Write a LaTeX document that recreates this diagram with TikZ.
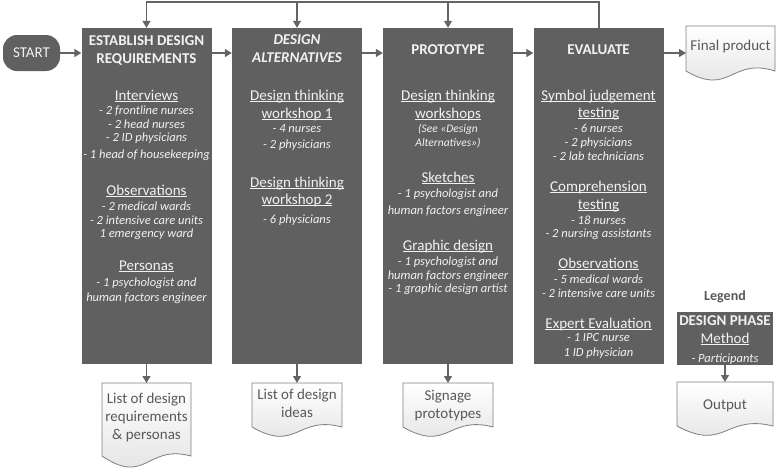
\documentclass[tikz,border=0pt]{standalone}
\usepackage{fontspec}
\setmainfont{Carlito}
\usetikzlibrary{arrows.meta}
\definecolor{boxfill}{HTML}{606060}
\definecolor{boxtext}{HTML}{F2F2F2}
\definecolor{linec}{HTML}{646464}
\definecolor{doctext}{HTML}{595959}
\definecolor{docline}{HTML}{7F7F7F}
\newcommand\myul[1]{\setbox0\hbox{#1}\rlap{\rule[-2.2pt]{\wd0}{0.8pt}}\box0}
\newcommand\docpath[6]{\path[docst] (#1,#2) -- (#3,#2) -- (#3,#4) .. controls ({#1+0.5*(#3-#1)},{#4-2*#6}) and ({#1+0.5*(#3-#1)},{#4+2*#5}) .. (#1,#4) -- cycle;}
\tikzset{
  phase/.style={fill=boxfill, draw=none, inner sep=0pt, minimum width=130pt, minimum height=336pt},
  ttl/.style={text=boxtext, font=\fontsize{15}{18}\selectfont\bfseries, anchor=base, inner sep=0pt},
  ttli/.style={text=boxtext, font=\fontsize{15}{18}\selectfont\bfseries\itshape, anchor=base, inner sep=0pt},
  mth/.style={text=boxtext, font=\fontsize{15}{18}\selectfont, anchor=base, inner sep=0pt},
  itm/.style={text=boxtext, font=\fontsize{12.5}{14}\selectfont\itshape, anchor=base, inner sep=0pt},
  itms/.style={text=boxtext, font=\fontsize{11.5}{13}\selectfont\itshape, anchor=base, inner sep=0pt},
  arr/.style={draw=linec, line width=1.3pt, -{Triangle[length=7pt,width=8pt]}},
  plain/.style={draw=linec, line width=1.3pt},
  docst/.style={draw=docline, line width=0.8pt, top color=white, bottom color=black!12},
  dtx/.style={text=doctext, font=\fontsize{15}{18}\selectfont, anchor=base, inner sep=0pt},
}
\begin{document}
\begin{tikzpicture}[x=1pt,y=-1pt]
\useasboundingbox (0,0) rectangle (778,467);

% start
\node[fill=boxfill, rounded corners=14pt, minimum width=57pt, minimum height=36pt, inner sep=0pt,
      text=boxtext, font=\fontsize{15}{18}\selectfont] (start) at (31.5,53) {START};

% phase boxes
\node[phase] (b1) at (146.5,196) {};
\node[phase] (b2) at (297,196) {};
\node[phase] (b3) at (448,196) {};
\node[phase] (b4) at (598.5,196) {};

% box 1
\node[ttl] (b1t1) at (146.5,45) {ESTABLISH DESIGN};
\node[ttl] (b1t2) at (146.5,63) {REQUIREMENTS};
\node[mth] (b1m1) at (146.5,100) {\myul{Interviews}};
\node[itm] (b1i1) at (146.5,114) {- 2 frontline nurses};
\node[itm] (b1i2) at (146.5,128) {- 2 head nurses};
\node[itm] (b1i3) at (146.5,141) {- 2 ID physicians};
\node[itm] (b1i4) at (146.5,158) {- 1 head of housekeeping};
\node[mth] (b1m2) at (146.5,195) {\myul{Observations}};
\node[itm] (b1i5) at (146.5,210) {- 2 medical wards};
\node[itm] (b1i6) at (146.5,224) {- 2 intensive care units};
\node[itm] (b1i7) at (146.5,237) {1 emergency ward};
\node[mth] (b1m3) at (146.5,270) {\myul{Personas}};
\node[itm] (b1i8) at (146.5,286) {- 1 psychologist and};
\node[itm] (b1i9) at (146.5,301) {human factors engineer};

% box 2
\node[ttli] (b2t1) at (297,44) {DESIGN};
\node[ttli] (b2t2) at (297,62) {ALTERNATIVES};
\node[mth] (b2m1) at (297,100) {\myul{Design thinking}};
\node[mth] (b2m2) at (297,118) {\myul{workshop 1}};
\node[itm] (b2i1) at (297,132) {- 4 nurses};
\node[itm] (b2i2) at (297,148) {- 2 physicians};
\node[mth] (b2m3) at (297,187) {\myul{Design thinking}};
\node[mth] (b2m4) at (297,204) {\myul{workshop 2}};
\node[itm] (b2i3) at (297,223) {- 6 physicians};

% box 3
\node[ttl] (b3t1) at (448,54) {PROTOTYPE};
\node[mth] (b3m1) at (448,100) {\myul{Design thinking}};
\node[mth] (b3m2) at (448,118) {\myul{workshops}};
\node[itms] (b3i1) at (448,132) {(See «Design};
\node[itms] (b3i2) at (448,146) {Alternatives»)};
\node[mth] (b3m3) at (448,182) {\myul{Sketches}};
\node[itm] (b3i3) at (448,197) {- 1 psychologist and};
\node[itm] (b3i4) at (448,214) {human factors engineer};
\node[mth] (b3m4) at (448,250) {\myul{Graphic design}};
\node[itm] (b3i5) at (448,265) {- 1 psychologist and};
\node[itm] (b3i6) at (448,279) {human factors engineer};
\node[itm] (b3i7) at (448,292) {- 1 graphic design artist};

% box 4
\node[ttl] (b4t1) at (598.5,54) {EVALUATE};
\node[mth] (b4m1) at (598.5,100) {\myul{Symbol judgement}};
\node[mth] (b4m2) at (598.5,117) {\myul{testing}};
\node[itm] (b4i1) at (598.5,132) {- 6 nurses};
\node[itm] (b4i2) at (598.5,146) {- 2 physicians};
\node[itm] (b4i3) at (598.5,160) {- 2 lab technicians};
\node[mth] (b4m3) at (598.5,191) {\myul{Comprehension}};
\node[mth] (b4m4) at (598.5,209) {\myul{testing}};
\node[itm] (b4i4) at (598.5,224) {- 18 nurses};
\node[itm] (b4i5) at (598.5,237) {- 2 nursing assistants};
\node[mth] (b4m5) at (598.5,268) {\myul{Observations}};
\node[itm] (b4i6) at (598.5,283) {- 5 medical wards};
\node[itm] (b4i7) at (598.5,297) {- 2 intensive care units};
\node[mth] (b4m6) at (598.5,328) {\myul{Expert Evaluation}};
\node[itm] (b4i8) at (598.5,341) {- 1 IPC nurse};
\node[itm] (b4i9) at (598.5,356) {1 ID physician};

% documents
\docpath{686}{26}{775}{71}{13}{7}
\node[dtx] (fp) at (730.5,50) {Final product};
\coordinate (fpin) at (686,53);

\docpath{102}{383}{191}{456}{15}{6}
\node[dtx] (d1a) at (146.5,403) {List of design};
\node[dtx] (d1b) at (146.5,421) {requirements};
\node[dtx] (d1c) at (146.5,439) {\& personas};
\coordinate (d1top) at (146.5,383);

\docpath{252}{383}{342}{427}{13}{6}
\node[dtx] (d2a) at (297,399) {List of design};
\node[dtx] (d2b) at (297,417) {ideas};
\coordinate (d2top) at (297,383);

\docpath{403}{383}{493}{427}{13}{6}
\node[dtx] (d3a) at (448,400) {Signage};
\node[dtx] (d3b) at (448,418) {prototypes};
\coordinate (d3top) at (448,383);

% legend
\node[text=doctext, font=\fontsize{14}{16}\selectfont\bfseries, anchor=base, inner sep=0pt] (lgt) at (725,300) {Legend};
\node[fill=boxfill, minimum width=96pt, minimum height=53pt, inner sep=0pt] (lg) at (725,338.5) {};
\node[ttl] (lg1) at (725,325) {DESIGN PHASE};
\node[mth] (lg2) at (725,343) {\myul{Method}};
\node[itm] (lg3) at (725,362) {- Participants};
\docpath{677}{382}{773}{426}{13}{6}
\node[dtx] (outp) at (725,409) {Output};
\coordinate (otop) at (725,382);

% connectors
\draw[arr] (start.east) -- (start.east -| b1.west);
\draw[arr] (b1.east |- start.east) -- (b2.west |- start.east);
\draw[arr] (b2.east |- start.east) -- (b3.west |- start.east);
\draw[arr] (b3.east |- start.east) -- (b4.west |- start.east);
\draw[arr] (b4.east |- start.east) -- (fpin);

\coordinate (fb) at (599,2);
\draw[arr] (fb |- b4.north) -- (fb) -- (fb -| b1.north) -- (b1.north);
\draw[arr] (fb -| b2.north) -- (b2.north);
\draw[arr] (fb -| b3.north) -- (b3.north);

\draw[arr] (b1.south) -- (d1top);
\draw[arr] (b2.south) -- (d2top);
\draw[arr] (b3.south) -- (d3top);
\draw[arr] (lg.south) -- (otop);
\end{tikzpicture}
\end{document}
